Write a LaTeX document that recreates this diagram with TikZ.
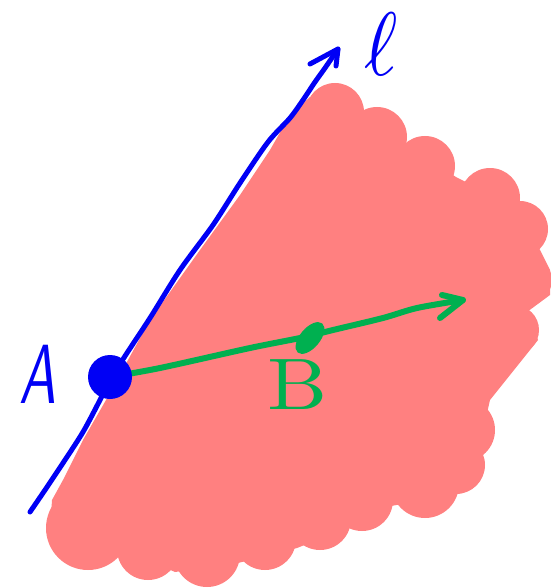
\documentclass[tikz,border=0pt]{standalone}
\definecolor{blobpink}{RGB}{255,128,128}
\definecolor{penblue}{RGB}{0,0,245}
\definecolor{pengreen}{RGB}{0,176,80}
\tikzset{
  bluepen/.style={draw=penblue, line width=5pt, line cap=round, line join=round},
  greenpen/.style={draw=pengreen, line width=6pt, line cap=round, line join=round},
}
\begin{document}
\begin{tikzpicture}[x=1pt,y=-1pt]
\useasboundingbox (0,0) rectangle (550,588);
% blob
\fill[blobpink] (310,97) -- (358,108) -- (402,142) -- (456,177) -- (515,207) -- (540,250) -- (550,270) -- (550,295) -- (527,312) -- (538,340) -- (490,400) -- (470,488) -- (455,495) -- (385,507) -- (342,530) -- (297,548) -- (238,563) -- (175,572) -- (120,548) -- (50,530) -- (52,500) -- (63,480) -- (83,440) -- (106,400) -- (128,360) -- (150,320) -- (200,250) -- (240,195) -- (270,150) -- (290,115) -- cycle;
\foreach \cx/\cy/\r in {335/112/29, 377/137/30, 425/166/30, 490/198/30, 520/229/28, 530/280/22, 514/330/25, 463/430/32, 456/465/29, 425/484/34, 362/500/31, 320/519/31, 265/539/31, 207/554/33, 148/549/31, 88/528/42}
  \fill[blobpink] (\cx,\cy) circle[radius=\r];
% line l
\coordinate (ltip) at (338,49);
\coordinate (lbot) at (30,512);
\coordinate (A) at (110,377);
\coordinate (B) at (310,338);
\coordinate (gtip) at (463,300);
\draw[bluepen] plot[smooth, tension=0.5] coordinates {(lbot) (45,490) (63,463) (83,432) (100,400) (110,380) (127,353) (150,318) (180,270) (213,225) (240,183) (268,142) (290,118) (303,100) (315,82) (325,68) (ltip)};
\draw[bluepen] (310,64) -- (ltip) -- (336,66);
% green arrow
\draw[greenpen] plot[smooth, tension=0.5] coordinates {(A) (160,368) (250,348) (300,338) (333,330) (383,318) (417,308) (gtip)};
\draw[greenpen] (442,295) -- (gtip) -- (440,318);
% points
\fill[penblue] (A) circle[radius=22];
\fill[pengreen, rotate around={50:(B)}] (B) ellipse[x radius=19, y radius=10];
% labels
\node[text=penblue, xscale=5.5, yscale=8.4] (labA) at (38,374) {\sffamily\itshape A};
\node[text=pengreen, xscale=8.5, yscale=7.3] (labB) at (298,385) {B};
\node[text=penblue, xscale=8, yscale=9] (labl) at (381,44) {$\ell$};
\end{tikzpicture}
\end{document}
